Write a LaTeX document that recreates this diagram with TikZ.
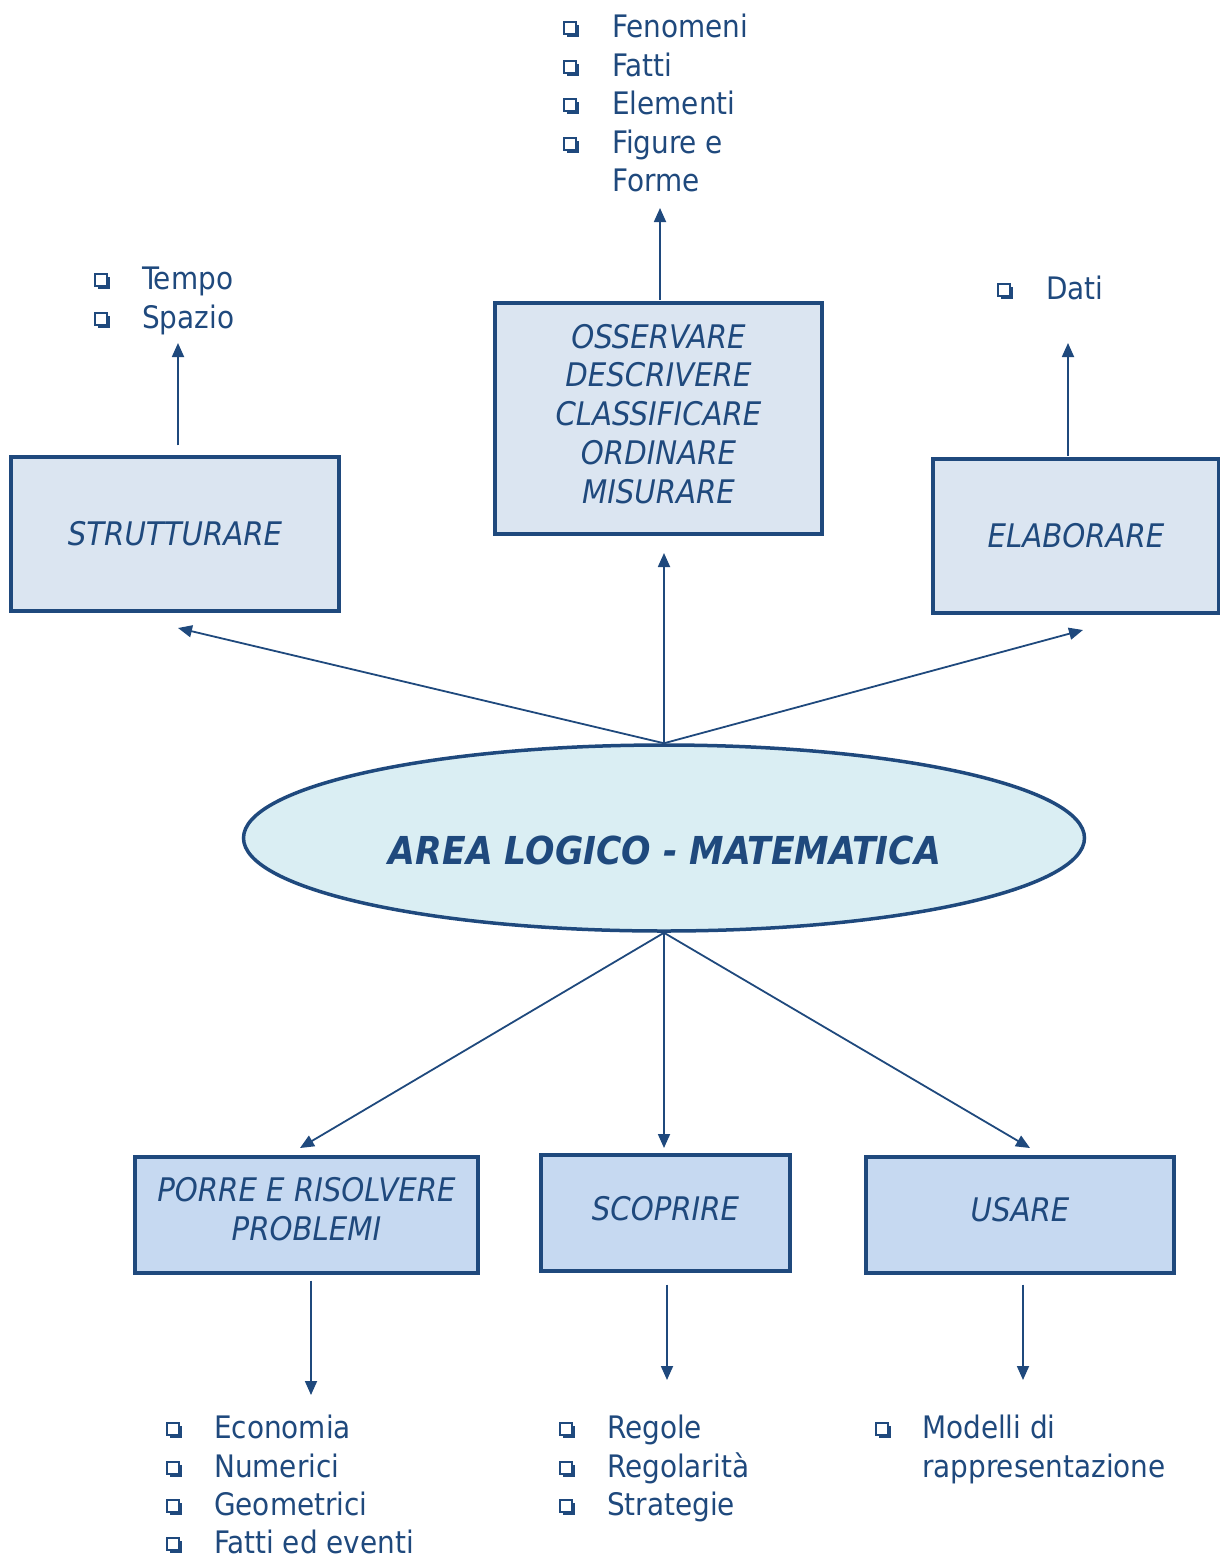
\documentclass[tikz,border=0pt]{standalone}
\usepackage{fontspec}
\setmainfont{DejaVu Sans Condensed}
\usetikzlibrary{arrows.meta,shapes.geometric}
\definecolor{navy}{HTML}{1F497D}
\definecolor{boxtop}{HTML}{DBE5F1}
\definecolor{boxbot}{HTML}{C6D9F1}
\definecolor{ovalfill}{HTML}{DAEEF3}
\tikzset{
  sqbullet/.pic={
    \fill[navy] (-5,-4) rectangle (7,8);
    \filldraw[fill=white, draw=navy, line width=1.1pt] (-8,-7) rectangle (4,5);
  }
}
\begin{document}
\begin{tikzpicture}[x=1pt,y=-1pt,
  every node/.style={text=navy, font=\fontsize{31}{38.5}\selectfont},
  topbox/.style={draw=navy, line width=3.3pt, fill=boxtop, inner sep=0pt,
    font=\fontsize{32.5}{38.75}\selectfont\itshape, align=center},
  botbox/.style={topbox, fill=boxbot},
  raised/.style={text depth=#1},
  link/.style={draw=navy, line width=1.8pt, -{Triangle[length=14pt,width=12pt]}},
  item/.style={anchor=base west, inner sep=0pt}
]
\useasboundingbox (0,0) rectangle (1220,1559);

% central ellipse
\node[draw=navy, line width=3.5pt, fill=ovalfill, ellipse, inner sep=0pt,
      minimum width=841, minimum height=186] (area) at (664,838) {};
\node[font=\fontsize{38.5}{40}\selectfont\bfseries\itshape] (areatext) at (665,850)
  {AREA LOGICO - MATEMATICA};

% upper boxes
\node[topbox, minimum width=328, minimum height=154] (struct) at (175,534) {STRUTTURARE};
\node[topbox, raised=10pt, minimum width=327, minimum height=231] (observe) at (658.5,418.5)
  {OSSERVARE\\DESCRIVERE\\CLASSIFICARE\\ORDINARE\\MISURARE};
\node[topbox, minimum width=286, minimum height=154] (elab) at (1076,536) {ELABORARE};

% lower boxes
\node[botbox, raised=12pt, minimum width=343, minimum height=116] (solve) at (306.5,1215)
  {PORRE E RISOLVERE\\PROBLEMI};
\node[botbox, raised=10pt, minimum width=249, minimum height=116] (discover) at (665.5,1213) {SCOPRIRE};
\node[botbox, raised=12pt, minimum width=308, minimum height=116] (use) at (1020,1215) {USARE};

% arrow tips
\coordinate (tipstruct) at (178,628);
\coordinate (tipobserve) at (664,553);
\coordinate (tipelab) at (1083,630);
\coordinate (tipsolve) at (300,1148);
\coordinate (tipdiscover) at (664,1148);
\coordinate (tipuse) at (1030,1148);
\coordinate (tiptempo) at (178,343);
\coordinate (tipfen) at (660,208);
\coordinate (tipdati) at (1068,343);
\coordinate (tipecon) at (311,1395);
\coordinate (tipregole) at (667,1380);
\coordinate (tipmodelli) at (1023,1380);

% connectors from the ellipse
\draw[link] (area.north) -- (tipstruct);
\draw[link] (area.north) -- (tipobserve);
\draw[link] (area.north) -- (tipelab);
\draw[link] (area.south) -- (tipsolve);
\draw[link] (area.south) -- (tipdiscover);
\draw[link] (area.south) -- (tipuse);

% connectors from the boxes to their lists
\draw[link, shorten <=10pt] ([xshift=3pt]struct.north) -- (tiptempo);
\draw[link, shorten <=1.5pt] ([xshift=1.5pt]observe.north) -- (tipfen);
\draw[link, shorten <=1.5pt] ([xshift=-8pt]elab.north) -- (tipdati);
\draw[link, shorten <=6pt] ([xshift=4.5pt]solve.south) -- (tipecon);
\draw[link, shorten <=12pt] ([xshift=1.5pt]discover.south) -- (tipregole);
\draw[link, shorten <=10pt] ([xshift=3pt]use.south) -- (tipmodelli);

% list above OSSERVARE
\node[item] (fen) at (612,37) {Fenomeni};
\node[item] (fatti) at (612,76) {Fatti};
\node[item] (elem) at (612,114) {Elementi};
\node[item] (fig) at (612,153) {Figure e};
\node[item] (forme) at (612,191) {Forme};
\pic at (572,29) {sqbullet};
\pic at (572,68) {sqbullet};
\pic at (572,106) {sqbullet};
\pic at (572,145) {sqbullet};

% list above STRUTTURARE
\node[item] (tempo) at (142,289) {Tempo};
\node[item] (spazio) at (142,328) {Spazio};
\pic at (103,281) {sqbullet};
\pic at (103,320) {sqbullet};

% list above ELABORARE
\node[item] (dati) at (1046,299) {Dati};
\pic at (1006,291) {sqbullet};

% list below PORRE E RISOLVERE PROBLEMI
\node[item] (econ) at (214,1438) {Economia};
\node[item] (num) at (214,1477) {Numerici};
\node[item] (geom) at (214,1515) {Geometrici};
\node[item] (eventi) at (214,1553) {Fatti ed eventi};
\pic at (175,1430) {sqbullet};
\pic at (175,1469) {sqbullet};
\pic at (175,1507) {sqbullet};
\pic at (175,1545) {sqbullet};

% list below SCOPRIRE
\node[item] (regole) at (607,1438) {Regole};
\node[item] (regol) at (607,1477) {Regolarità};
\node[item] (strat) at (607,1515) {Strategie};
\pic at (568,1430) {sqbullet};
\pic at (568,1469) {sqbullet};
\pic at (568,1507) {sqbullet};

% list below USARE
\node[item] (modelli) at (922,1438) {Modelli di};
\node[item] (rappr) at (922,1477) {rappresentazione};
\pic at (884,1430) {sqbullet};
\end{tikzpicture}
\end{document}
